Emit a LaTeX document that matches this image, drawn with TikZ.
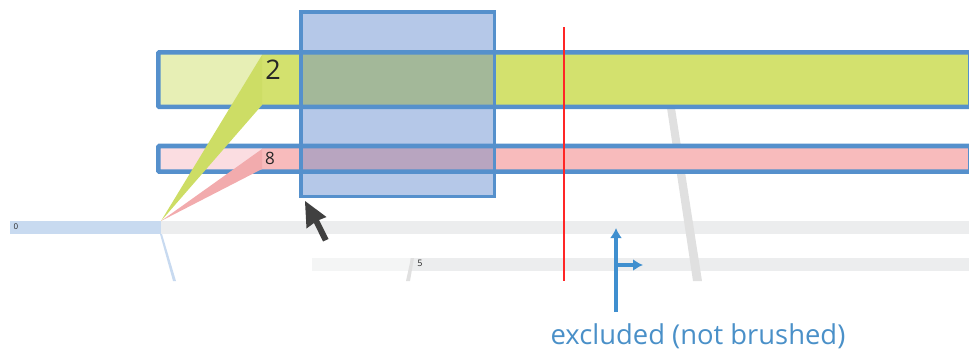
\documentclass[tikz,border=0pt]{standalone}
\usepackage{fontspec}
\setmainfont{Open Sans}
\definecolor{frameblue}{HTML}{5590CC}
\definecolor{brushblue}{HTML}{B5C8E8}
\definecolor{limeband}{HTML}{D3E16E}
\definecolor{limepale}{HTML}{E7EFB5}
\definecolor{limewedge}{HTML}{CDDD65}
\definecolor{limebrush}{HTML}{A3B899}
\definecolor{pinkband}{HTML}{F8BBBC}
\definecolor{pinkpale}{HTML}{FBDDE1}
\definecolor{pinkwedge}{HTML}{F2ABAD}
\definecolor{pinkbrush}{HTML}{B8A5C0}
\definecolor{greyband}{HTML}{ECEDEE}
\definecolor{greypale}{HTML}{F4F5F5}
\definecolor{greyribbon}{HTML}{E0E0E0}
\definecolor{paleblue}{HTML}{C8DAF0}
\definecolor{notecolor}{HTML}{3F8FCF}
\definecolor{labelcolor}{HTML}{4A90C8}
\definecolor{cursorgrey}{HTML}{404040}
\usetikzlibrary{arrows.meta}
\tikzset{
	frame/.style={draw=frameblue,line width=4.6pt,rounded corners=1pt},
	note/.style={-{Latex[length=10pt,width=12pt]},draw=notecolor,line width=3.4pt},
	num/.style={inner sep=0pt,text=black!85}
}
\begin{document}
\begin{tikzpicture}[x=1pt,y=-1pt]
		\useasboundingbox (0,0) rectangle (969,349);
		% grey ribbon and lower bands
		\fill[greyband] (161,221) rectangle (969,234);
		\fill[paleblue] (10,221) rectangle (161,234);
		\fill[greypale] (312,258) rectangle (410,271);
		\fill[greyband] (410,258) rectangle (969,271);
		\fill[greyribbon] (667,108) -- (675,108) -- (702,281) -- (693,281) -- cycle;
		\fill[paleblue] (160,234) -- (162,234) -- (176,281) -- (173,281) -- cycle;
		\fill[greyribbon] (411,258) -- (414,258) -- (410,281) -- (406,281) -- cycle;
		% brush
		\fill[brushblue] (300,11) rectangle (495,197);
		% rows
		\fill[limepale] (159,53) rectangle (262,106);
		\fill[limeband] (262,53) rectangle (969,106);
		\fill[limebrush] (300,53) rectangle (495,106);
		\fill[pinkpale] (159,146) rectangle (262,171);
		\fill[pinkband] (262,146) rectangle (969,171);
		\fill[pinkbrush] (300,146) rectangle (495,171);
		\draw[frame] (158.3,52.4) rectangle (970.3,106.8);
		\draw[frame] (158.3,146) rectangle (970.3,171.6);
		\draw[draw=frameblue,line width=3.4pt] (301,11.8) rectangle (494.5,196.5);
		% wedges
		\fill[limewedge] (161,221) -- (262,55) -- (262,105) -- cycle;
		\fill[pinkwedge] (161,221) -- (262,149) -- (262,169) -- cycle;
		% labels
		\node[num,font=\fontsize{27}{27}\selectfont] (two) at (273,70) {2};
		\node[num,font=\fontsize{17}{17}\selectfont] (eight) at (270,158) {8};
		\node[num,font=\fontsize{8}{8}\selectfont] (zero) at (16,227) {0};
		\node[num,font=\fontsize{9}{9}\selectfont] (five) at (420,263.5) {5};
		% cursor
		\fill[cursorgrey] (305,201) -- (306.5,228.5) -- (314,223) -- (323,241.5) -- (328.5,239) -- (319,220) -- (326.5,217) -- cycle;
		% threshold
		\draw[red!85!white,line width=1.3pt] (564,27) -- (564,281);
		% note
		\coordinate (foot) at (616,312);
		\coordinate (up) at (616,228);
		\coordinate (fork) at (616,265);
		\coordinate (side) at (643,265);
		\draw[note] (foot) -- (up);
		\draw[note] (fork) -- (side);
		\node[text=labelcolor,font=\fontsize{27.4}{27.4}\selectfont,anchor=base] (excluded) at (698,344) {excluded (not brushed)};
\end{tikzpicture}
\end{document}
